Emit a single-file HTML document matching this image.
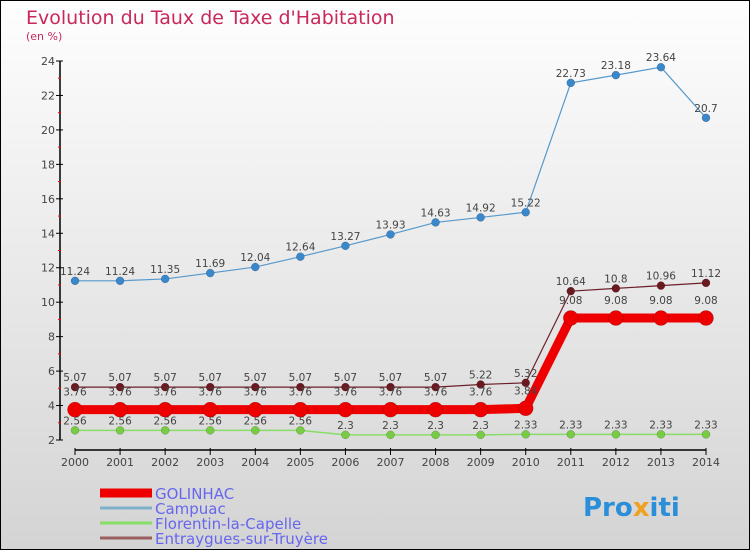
<!DOCTYPE html>
<html><head><meta charset="utf-8"><style>
body{margin:0;}
#c{width:750px;height:550px;position:relative;overflow:hidden;}
svg text{font-family:"DejaVu Sans","Liberation Sans",sans-serif;}
</style></head><body>
<div id="c">
<svg id="s" width="750" height="550" xmlns="http://www.w3.org/2000/svg">
<defs><linearGradient id="bg" x1="0" y1="0" x2="0" y2="1"><stop offset="0" stop-color="#fefefe"/><stop offset="1" stop-color="#d4d4d4"/></linearGradient></defs>
<rect x="0.5" y="0.5" width="749" height="549" fill="url(#bg)" stroke="#000"/>
<text x="26" y="24" font-size="19" fill="#c8285a">Evolution du Taux de Taxe d'Habitation</text>
<text x="26" y="40" font-size="11" fill="#c8285a">(en %)</text>
<g id="g"></g>
<text x="583" y="516" font-size="26" font-weight="bold" fill="#2a8fd8">Pro<tspan fill="#f0a020">x</tspan>iti</text>
</svg></div>
<script>
const years=[2000,2001,2002,2003,2004,2005,2006,2007,2008,2009,2010,2011,2012,2013,2014];
const golinhac=[3.76,3.76,3.76,3.76,3.76,3.76,3.76,3.76,3.76,3.76,3.84,9.08,9.08,9.08,9.08];
const campuac=[11.24,11.24,11.35,11.69,12.04,12.64,13.27,13.93,14.63,14.92,15.22,22.73,23.18,23.64,20.7];
const florentin=[2.56,2.56,2.56,2.56,2.56,2.56,2.3,2.3,2.3,2.3,2.33,2.33,2.33,2.33,2.33];
const entraygues=[5.07,5.07,5.07,5.07,5.07,5.07,5.07,5.07,5.07,5.22,5.32,10.64,10.8,10.96,11.12];
const yTicks=[2,4,6,8,10,12,14,16,18,20,22,24];
const NS="http://www.w3.org/2000/svg";
const g=document.getElementById('g');
const X=i=>75+i*(706-75)/(years.length-1);
const Y=v=>440-(v-2)*(440-61)/22;
function el(t,a,p){const e=document.createElementNS(NS,t);for(const k in a)e.setAttribute(k,a[k]);(p||g).appendChild(e);return e;}
let ax=el('line',{x1:60,y1:61,x2:60,y2:440,stroke:'#000','stroke-width':1.5});


yTicks.forEach((v,k)=>{
 el('line',{x1:56,x2:63,y1:Y(v),y2:Y(v),stroke:'#000'});
 if(k<yTicks.length-1) el('line',{x1:58,x2:61,y1:Y(v+1),y2:Y(v+1),stroke:'#f00'});
 let t=el('text',{x:55,y:Y(v)+4,'font-size':11,fill:'#444','text-anchor':'end'});t.textContent=v;
 
 
});
let xa=el('line',{x1:75,y1:450,x2:706,y2:450,stroke:'#000','stroke-width':1.5});


years.forEach((yr,i)=>{
 el('line',{x1:X(i),x2:X(i),y1:448,y2:455,stroke:'#000'});
 let t=el('text',{x:X(i),y:466,'font-size':11,fill:'#444','text-anchor':'middle'});t.textContent=yr;
 
 
});
function series(name,data,color,w,r,fillc,labelOff){
 const gg=el('g',{});
 
 
 el('polyline',{points:data.map((v,i)=>X(i)+','+Y(v)).join(' '),fill:'none',stroke:color,'stroke-width':w},gg);
 data.forEach((v,i)=>{
  const c=el('circle',{cx:X(i),cy:Y(v),r:r,fill:fillc,stroke:'rgba(0,0,0,0.3)','stroke-width':0.5},gg);
  
  
  const t=el('text',{x:X(i),y:Y(v)+labelOff,'font-size':10.5,fill:'#444','text-anchor':'middle'},gg);
  t.textContent=String(v);
  
  
 });
}
series('florentin',florentin,'#88dd66',1.5,4,'#77cc44',-6);
series('entraygues',entraygues,'#6b2028',1.2,4,'#6b1820',-6);
series('golinhac',golinhac,'#ee0000',9,7.5,'#ee0000',-14);
series('campuac',campuac,'#5599cc',1.2,4,'#3a88cc',-6);
const leg=[['GOLINHAC','#ee0000',9],['Campuac','#7fb0cc',3],['Florentin-la-Capelle','#88dd66',3],['Entraygues-sur-Truyère','#9a6060',3]];
leg.forEach((l,i)=>{
 const y=493+i*15;
 const lg=el('g',{});
 
 
 el('line',{x1:100,x2:152,y1:y,y2:y,stroke:l[1],'stroke-width':l[2]},lg);
 const t=el('text',{x:155,y:y+6,'font-size':15,fill:'#6666ee'},lg);t.textContent=l[0];
});
</script>
</body></html>
